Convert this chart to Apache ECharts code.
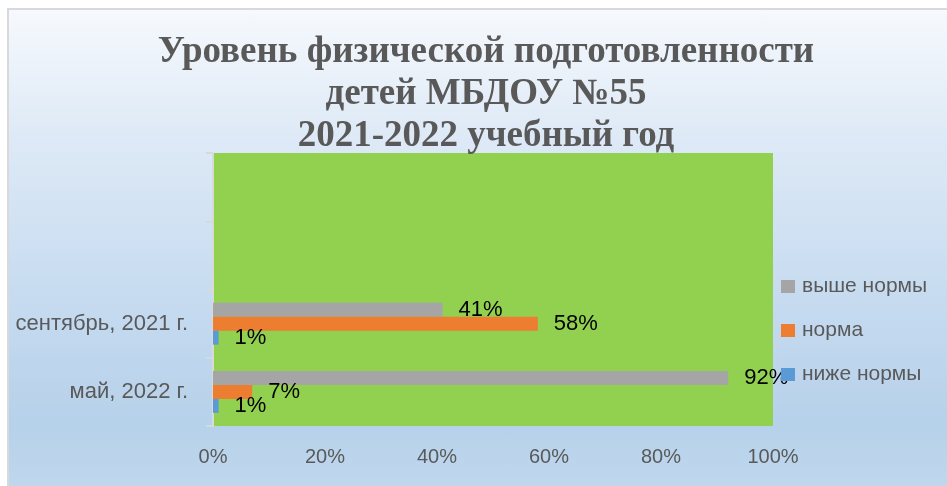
<!DOCTYPE html>
<html>
<head>
<meta charset="utf-8">
<script src="https://cdn.jsdelivr.net/npm/echarts@6/dist/echarts.min.js"></script>
<style>
  html, body { margin: 0; padding: 0; background: #ffffff; overflow: hidden; }
  #frame {
    position: absolute; left: 7px; top: 8px; width: 980px; height: 520px;
    border: 2px solid #d9d9d9;
    background: linear-gradient(to bottom, #f6f9fd 0%, #dde9f6 25%, #c3d9ef 60%, #b6d1ea 80%, #c6dcf0 100%);
  }
  #main { position: absolute; left: 0; top: 0; width: 947px; height: 486px; }
</style>
</head>
<body>
<div id="frame"></div>
<div id="main"></div>
<script>
// categories go bottom -> top on the y axis, the two top slots are empty
const categories = ['май, 2022 г.', 'сентябрь, 2021 г.', '', ''];
const seriesNames = ['выше нормы', 'норма', 'ниже нормы'];
const aboveNorm = [92, 41, null, null];
const norm = [7, 58, null, null];
const belowNorm = [1, 1, null, null];
const xTicks = [0, 20, 40, 60, 80, 100];

const titleText = 'Уровень физической подготовленности\nдетей МБДОУ №55\n2021-2022 учебный год';

class Page {
  constructor() {
    this.chart = echarts.init(document.getElementById('main'), null, { renderer: 'canvas' });
    this.init();
  }

  init() {
    this.chart.setOption(this.buildOption());
  }

  makeSeries(name, data, color) {
    return {
      name: name,
      type: 'bar',
      data: data,
      barWidth: 14,
      barGap: '0%',
      itemStyle: { color: color },
      label: {
        show: true,
        position: 'right',
        distance: 16,
        formatter: '{c}%',
        color: '#000000',
        fontSize: 22,
        fontFamily: 'Liberation Sans'
      }
    };
  }

  buildOption() {
    const sans = 'Liberation Sans';
    return {
      backgroundColor: 'transparent',
      animation: false,
      graphic: [{
        type: 'text',
        x: 486,
        y: 31,
        z: 100,
        style: {
          text: titleText,
          textAlign: 'center',
          textVerticalAlign: 'top',
          font: 'bold 37px "Liberation Serif"',
          lineHeight: 42,
          fill: '#595959'
        }
      }],
      legend: {
        orient: 'vertical',
        left: 781,
        top: 276,
        padding: 0,
        itemWidth: 14,
        itemHeight: 13,
        itemGap: 23,
        icon: 'rect',
        data: seriesNames,
        textStyle: { color: '#595959', fontSize: 21, fontFamily: sans, padding: [0, 0, 0, 2] }
      },
      grid: {
        left: 213,
        right: 174,
        top: 153,
        bottom: 60,
        show: true,
        backgroundColor: '#92D050',
        borderWidth: 0,
        containLabel: false
      },
      xAxis: {
        type: 'value',
        min: xTicks[0],
        max: xTicks[xTicks.length - 1],
        interval: 20,
        axisLine: { show: false },
        axisTick: { show: false },
        splitLine: { show: false },
        axisLabel: {
          formatter: '{value}%',
          color: '#595959',
          fontSize: 20,
          fontFamily: sans,
          margin: 21
        }
      },
      yAxis: {
        type: 'category',
        data: categories,
        axisLine: { show: true, lineStyle: { color: '#d9d9d9', width: 2 } },
        axisTick: { show: true, length: 7, lineStyle: { color: '#d9d9d9', width: 2 } },
        axisLabel: {
          color: '#595959',
          fontSize: 22,
          fontFamily: sans,
          margin: 25
        }
      },
      series: [
        this.makeSeries(seriesNames[0], aboveNorm, '#A5A5A5'),
        this.makeSeries(seriesNames[1], norm, '#ED7D31'),
        this.makeSeries(seriesNames[2], belowNorm, '#5B9BD5')
      ]
    };
  }
}

new Page();
</script>
</body>
</html>
